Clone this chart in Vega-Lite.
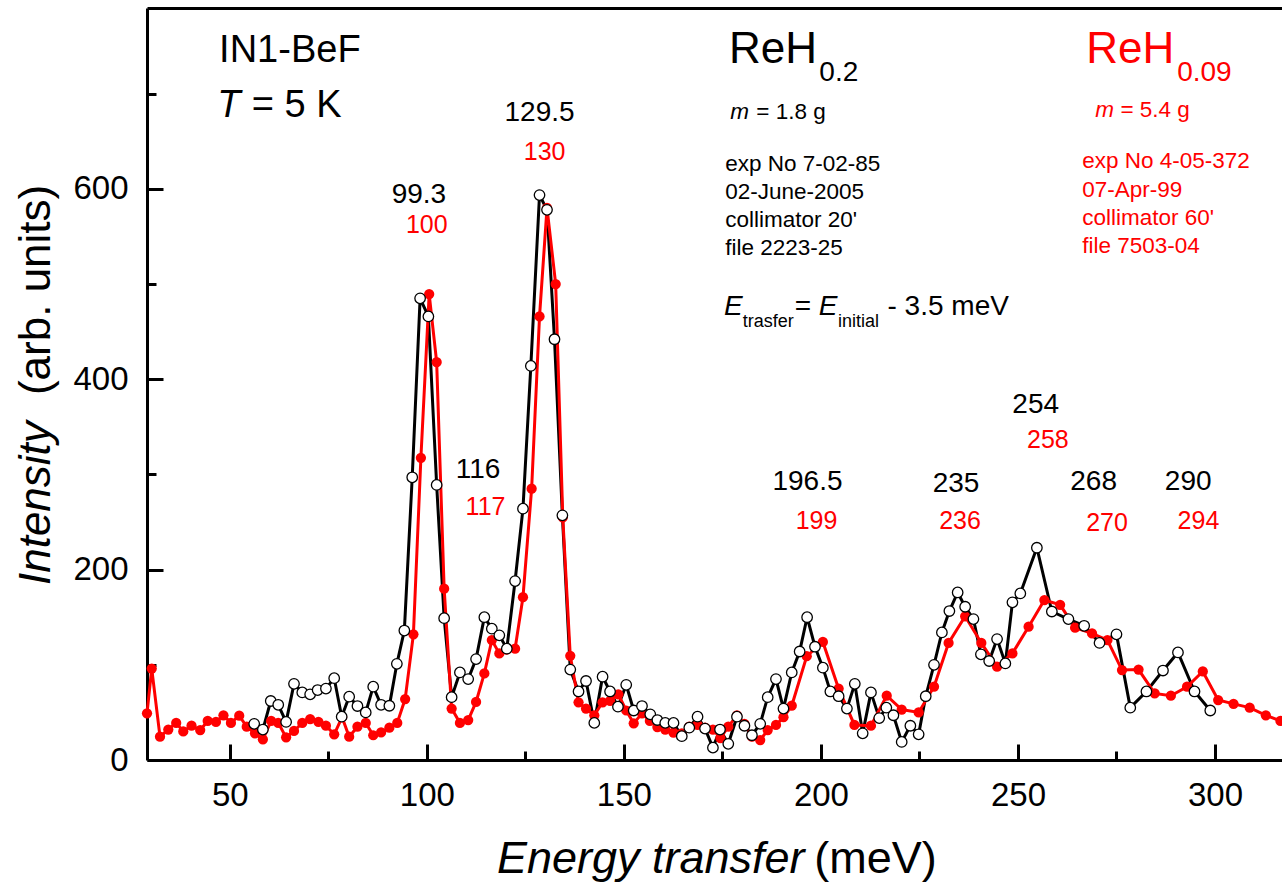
{
  "$schema": "https://vega.github.io/schema/vega-lite/v6.json",
  "width": 1135,
  "height": 752,
  "autosize": {"type": "none"},
  "padding": {"left": 147, "top": 8, "right": 0, "bottom": 126},
  "background": "white",
  "config": {"view": {"stroke": null}, "font": "Liberation Sans", "text": {"font": "Liberation Sans"},
    "axis": {"grid": false, "title": null, "tickColor": "black", "tickWidth": 3, "domainColor": "black", "domainWidth": 3,
      "labelFont": "Liberation Sans", "labelFontSize": 33, "labelColor": "black", "labelPadding": 35, "labelOverlap": false, "labelFlush": false}},
  "resolve": {"axis": {"x": "independent", "y": "independent"}},
  "datasets": {
    "spectra": [
      {"s":"ReH0.2","x":56.2,"y":38},{"s":"ReH0.2","x":58.4,"y":32},{"s":"ReH0.2","x":60.4,"y":62},{"s":"ReH0.2","x":62.3,"y":58},
      {"s":"ReH0.2","x":64.3,"y":40},{"s":"ReH0.2","x":66.3,"y":80},{"s":"ReH0.2","x":68.4,"y":71},{"s":"ReH0.2","x":70.4,"y":69},
      {"s":"ReH0.2","x":72.3,"y":73.5},{"s":"ReH0.2","x":74.4,"y":75},{"s":"ReH0.2","x":76.5,"y":86},{"s":"ReH0.2","x":78.4,"y":45.5},
      {"s":"ReH0.2","x":80.3,"y":66.5},{"s":"ReH0.2","x":82.4,"y":56.7},{"s":"ReH0.2","x":84.5,"y":50},{"s":"ReH0.2","x":86.4,"y":77},
      {"s":"ReH0.2","x":88.4,"y":58},{"s":"ReH0.2","x":90.5,"y":57},{"s":"ReH0.2","x":92.4,"y":101},{"s":"ReH0.2","x":94.3,"y":136},
      {"s":"ReH0.2","x":96.3,"y":297},{"s":"ReH0.2","x":98.3,"y":485},{"s":"ReH0.2","x":100.4,"y":466},{"s":"ReH0.2","x":102.5,"y":289},
      {"s":"ReH0.2","x":104.4,"y":149},{"s":"ReH0.2","x":106.3,"y":66},{"s":"ReH0.2","x":108.4,"y":92},{"s":"ReH0.2","x":110.5,"y":85},
      {"s":"ReH0.2","x":112.5,"y":106},{"s":"ReH0.2","x":114.6,"y":150},{"s":"ReH0.2","x":116.5,"y":138},{"s":"ReH0.2","x":118.4,"y":131},
      {"s":"ReH0.2","x":120.3,"y":117},{"s":"ReH0.2","x":122.4,"y":188},{"s":"ReH0.2","x":124.4,"y":264},{"s":"ReH0.2","x":126.4,"y":414},
      {"s":"ReH0.2","x":128.6,"y":593.5},{"s":"ReH0.2","x":130.5,"y":578},{"s":"ReH0.2","x":132.4,"y":442},{"s":"ReH0.2","x":134.4,"y":257},
      {"s":"ReH0.2","x":136.4,"y":95},{"s":"ReH0.2","x":138.5,"y":72},{"s":"ReH0.2","x":140.4,"y":83},{"s":"ReH0.2","x":142.5,"y":39},
      {"s":"ReH0.2","x":144.6,"y":87.5},{"s":"ReH0.2","x":146.5,"y":72},{"s":"ReH0.2","x":148.5,"y":56},{"s":"ReH0.2","x":150.6,"y":79},
      {"s":"ReH0.2","x":152.5,"y":52},{"s":"ReH0.2","x":154.6,"y":56.7},{"s":"ReH0.2","x":156.7,"y":48},{"s":"ReH0.2","x":158.5,"y":42},
      {"s":"ReH0.2","x":160.5,"y":39},{"s":"ReH0.2","x":162.6,"y":39},{"s":"ReH0.2","x":164.7,"y":25},{"s":"ReH0.2","x":166.6,"y":34},
      {"s":"ReH0.2","x":168.7,"y":45.5},{"s":"ReH0.2","x":170.6,"y":33},{"s":"ReH0.2","x":172.6,"y":13},{"s":"ReH0.2","x":174.4,"y":32},
      {"s":"ReH0.2","x":176.5,"y":17},{"s":"ReH0.2","x":178.7,"y":45.5},{"s":"ReH0.2","x":180.6,"y":36},{"s":"ReH0.2","x":182.5,"y":26},
      {"s":"ReH0.2","x":184.6,"y":38},{"s":"ReH0.2","x":186.5,"y":66},{"s":"ReH0.2","x":188.6,"y":85},{"s":"ReH0.2","x":190.5,"y":54},
      {"s":"ReH0.2","x":192.6,"y":92},{"s":"ReH0.2","x":194.6,"y":114},{"s":"ReH0.2","x":196.5,"y":150},{"s":"ReH0.2","x":198.5,"y":119},
      {"s":"ReH0.2","x":200.5,"y":97},{"s":"ReH0.2","x":202.4,"y":72},{"s":"ReH0.2","x":204.5,"y":67},{"s":"ReH0.2","x":206.6,"y":54},
      {"s":"ReH0.2","x":208.6,"y":80},{"s":"ReH0.2","x":210.6,"y":28},{"s":"ReH0.2","x":212.7,"y":71},{"s":"ReH0.2","x":214.8,"y":44},
      {"s":"ReH0.2","x":216.6,"y":55},{"s":"ReH0.2","x":218.4,"y":47},{"s":"ReH0.2","x":220.5,"y":19},{"s":"ReH0.2","x":222.7,"y":36},
      {"s":"ReH0.2","x":224.8,"y":27},{"s":"ReH0.2","x":226.6,"y":67},{"s":"ReH0.2","x":228.7,"y":100},{"s":"ReH0.2","x":230.7,"y":134},
      {"s":"ReH0.2","x":232.6,"y":156.5},{"s":"ReH0.2","x":234.7,"y":176},{"s":"ReH0.2","x":236.6,"y":161},{"s":"ReH0.2","x":238.7,"y":148},
      {"s":"ReH0.2","x":240.6,"y":111},{"s":"ReH0.2","x":242.7,"y":104},{"s":"ReH0.2","x":244.7,"y":127},{"s":"ReH0.2","x":246.8,"y":101.5},
      {"s":"ReH0.2","x":248.6,"y":165.6},{"s":"ReH0.2","x":250.6,"y":175},{"s":"ReH0.2","x":254.8,"y":223},{"s":"ReH0.2","x":258.6,"y":156},
      {"s":"ReH0.2","x":262.8,"y":148},{"s":"ReH0.2","x":266.8,"y":141},{"s":"ReH0.2","x":270.7,"y":123},{"s":"ReH0.2","x":275,"y":132},
      {"s":"ReH0.2","x":278.5,"y":55},{"s":"ReH0.2","x":282.6,"y":72},{"s":"ReH0.2","x":286.8,"y":94},{"s":"ReH0.2","x":290.6,"y":113},
      {"s":"ReH0.2","x":294.8,"y":72},{"s":"ReH0.2","x":298.8,"y":52},
      {"s":"ReH0.09","x":29,"y":49},{"s":"ReH0.09","x":30.2,"y":96},{"s":"ReH0.09","x":32.3,"y":24.5},{"s":"ReH0.09","x":34.4,"y":32},
      {"s":"ReH0.09","x":36.4,"y":39},{"s":"ReH0.09","x":38.2,"y":30},{"s":"ReH0.09","x":40.3,"y":36},{"s":"ReH0.09","x":42.5,"y":31.5},
      {"s":"ReH0.09","x":44.4,"y":41},{"s":"ReH0.09","x":46.5,"y":40},{"s":"ReH0.09","x":48.4,"y":47},{"s":"ReH0.09","x":50.3,"y":39},
      {"s":"ReH0.09","x":52.4,"y":46.5},{"s":"ReH0.09","x":54.3,"y":35},{"s":"ReH0.09","x":56.4,"y":28},{"s":"ReH0.09","x":58.4,"y":21.7},
      {"s":"ReH0.09","x":60.5,"y":41},{"s":"ReH0.09","x":62.3,"y":39},{"s":"ReH0.09","x":64.3,"y":23.8},{"s":"ReH0.09","x":66.3,"y":30.5},
      {"s":"ReH0.09","x":68.4,"y":39},{"s":"ReH0.09","x":70.4,"y":43},{"s":"ReH0.09","x":72.5,"y":40},{"s":"ReH0.09","x":74.4,"y":36},
      {"s":"ReH0.09","x":76.5,"y":27},{"s":"ReH0.09","x":78.5,"y":45},{"s":"ReH0.09","x":80.3,"y":24.5},{"s":"ReH0.09","x":82.4,"y":35},
      {"s":"ReH0.09","x":84.5,"y":39},{"s":"ReH0.09","x":86.4,"y":26},{"s":"ReH0.09","x":88.4,"y":29},{"s":"ReH0.09","x":90.5,"y":34},
      {"s":"ReH0.09","x":92.5,"y":39},{"s":"ReH0.09","x":94.5,"y":64},{"s":"ReH0.09","x":96.6,"y":132},{"s":"ReH0.09","x":98.5,"y":317.5},
      {"s":"ReH0.09","x":100.6,"y":489.5},{"s":"ReH0.09","x":102.5,"y":418},{"s":"ReH0.09","x":104.4,"y":180},{"s":"ReH0.09","x":106.3,"y":54},
      {"s":"ReH0.09","x":108.4,"y":39},{"s":"ReH0.09","x":110.5,"y":42},{"s":"ReH0.09","x":112.5,"y":61},{"s":"ReH0.09","x":114.6,"y":91},
      {"s":"ReH0.09","x":116.5,"y":126},{"s":"ReH0.09","x":118.4,"y":112},{"s":"ReH0.09","x":120.3,"y":116},{"s":"ReH0.09","x":122.4,"y":117},
      {"s":"ReH0.09","x":124.4,"y":171},{"s":"ReH0.09","x":126.6,"y":285},{"s":"ReH0.09","x":128.6,"y":466},{"s":"ReH0.09","x":130.5,"y":580},
      {"s":"ReH0.09","x":132.7,"y":500},{"s":"ReH0.09","x":134.5,"y":255},{"s":"ReH0.09","x":136.4,"y":109.5},{"s":"ReH0.09","x":138.5,"y":60.6},
      {"s":"ReH0.09","x":140.4,"y":54},{"s":"ReH0.09","x":142.5,"y":47},{"s":"ReH0.09","x":144.6,"y":60.6},{"s":"ReH0.09","x":146.5,"y":62},
      {"s":"ReH0.09","x":148.6,"y":69},{"s":"ReH0.09","x":150.6,"y":52},{"s":"ReH0.09","x":152.5,"y":38.5},{"s":"ReH0.09","x":154.6,"y":49},
      {"s":"ReH0.09","x":156.6,"y":41},{"s":"ReH0.09","x":158.5,"y":34.6},{"s":"ReH0.09","x":160.5,"y":32},{"s":"ReH0.09","x":162.6,"y":28.7},
      {"s":"ReH0.09","x":164.7,"y":28},{"s":"ReH0.09","x":166.6,"y":35},{"s":"ReH0.09","x":168.7,"y":37},{"s":"ReH0.09","x":170.6,"y":34},
      {"s":"ReH0.09","x":172.6,"y":32},{"s":"ReH0.09","x":174.5,"y":23},{"s":"ReH0.09","x":176.5,"y":35},{"s":"ReH0.09","x":178.7,"y":47},
      {"s":"ReH0.09","x":180.6,"y":38},{"s":"ReH0.09","x":182.5,"y":24.5},{"s":"ReH0.09","x":184.6,"y":21},{"s":"ReH0.09","x":186.5,"y":31.5},
      {"s":"ReH0.09","x":188.6,"y":36.8},{"s":"ReH0.09","x":190.5,"y":45},{"s":"ReH0.09","x":192.6,"y":57},{"s":"ReH0.09","x":196.4,"y":109},
      {"s":"ReH0.09","x":200.5,"y":124},{"s":"ReH0.09","x":204.5,"y":75},{"s":"ReH0.09","x":208.5,"y":36.8},{"s":"ReH0.09","x":212.7,"y":36},
      {"s":"ReH0.09","x":216.7,"y":67.5},{"s":"ReH0.09","x":220.5,"y":53},{"s":"ReH0.09","x":224.8,"y":50},{"s":"ReH0.09","x":228.7,"y":77},
      {"s":"ReH0.09","x":232.4,"y":123},{"s":"ReH0.09","x":236.6,"y":151},{"s":"ReH0.09","x":240.7,"y":123},{"s":"ReH0.09","x":244.7,"y":98},
      {"s":"ReH0.09","x":248.6,"y":112},{"s":"ReH0.09","x":252.7,"y":140},{"s":"ReH0.09","x":256.7,"y":168},{"s":"ReH0.09","x":260.7,"y":163},
      {"s":"ReH0.09","x":264.5,"y":139},{"s":"ReH0.09","x":268.8,"y":133},{"s":"ReH0.09","x":272.7,"y":126},{"s":"ReH0.09","x":276.4,"y":94.5},
      {"s":"ReH0.09","x":280.6,"y":95},{"s":"ReH0.09","x":284.7,"y":70},{"s":"ReH0.09","x":288.8,"y":67.5},{"s":"ReH0.09","x":292.9,"y":77},
      {"s":"ReH0.09","x":296.9,"y":93},{"s":"ReH0.09","x":300.8,"y":63},{"s":"ReH0.09","x":304.7,"y":59},{"s":"ReH0.09","x":308.8,"y":55},
      {"s":"ReH0.09","x":312.9,"y":47},{"s":"ReH0.09","x":316.6,"y":41}
    ],
    "notes": [
      {"k":"pk","s":"ReH0.2","t":"99.3","x":98.0,"y":584.8},
      {"k":"pk","s":"ReH0.09","t":"100","x":100.0,"y":553.3},
      {"k":"pk","s":"ReH0.2","t":"129.5","x":128.6,"y":671.6},
      {"k":"pk","s":"ReH0.09","t":"130","x":129.9,"y":630.3},
      {"k":"pk","s":"ReH0.2","t":"116","x":113.0,"y":295.9},
      {"k":"pk","s":"ReH0.09","t":"117","x":114.9,"y":257.4},
      {"k":"pk","s":"ReH0.2","t":"196.5","x":196.6,"y":283.6},
      {"k":"pk","s":"ReH0.09","t":"199","x":198.9,"y":242.4},
      {"k":"pk","s":"ReH0.2","t":"235","x":234.3,"y":281.9},
      {"k":"pk","s":"ReH0.09","t":"236","x":235.3,"y":242.4},
      {"k":"pk","s":"ReH0.2","t":"254","x":254.5,"y":364.2},
      {"k":"pk","s":"ReH0.09","t":"258","x":257.6,"y":328.1},
      {"k":"pk","s":"ReH0.2","t":"268","x":269.2,"y":283.6},
      {"k":"pk","s":"ReH0.09","t":"270","x":272.6,"y":240.9},
      {"k":"pk","s":"ReH0.2","t":"290","x":293.2,"y":283.6},
      {"k":"pk","s":"ReH0.09","t":"294","x":295.8,"y":242.4},
      {"k":"big","s":"ReH0.2","t":"IN1-BeF","x":47.3,"y":733.3},
      {"k":"bigit","s":"ReH0.2","t":"T","x":46.8,"y":675.8},
      {"k":"big","s":"ReH0.2","t":"= 5 K","x":55.6,"y":675.8},
      {"k":"head","s":"ReH0.2","t":"ReH","x":176.7,"y":732.5},
      {"k":"sub","s":"ReH0.2","t":"0.2","x":199.6,"y":713.3},
      {"k":"head","s":"ReH0.09","t":"ReH","x":267.3,"y":732.5},
      {"k":"sub","s":"ReH0.09","t":"0.09","x":290.4,"y":713.3},
      {"k":"infoit","s":"ReH0.2","t":"m","x":177.0,"y":673.1},
      {"k":"info","s":"ReH0.2","t":"= 1.8 g","x":183.6,"y":673.1},
      {"k":"infoit","s":"ReH0.09","t":"m","x":269.6,"y":675.2},
      {"k":"info","s":"ReH0.09","t":"= 5.4 g","x":276.0,"y":675.2},
      {"k":"info","s":"ReH0.2","t":"exp No 7-02-85","x":175.7,"y":619.1},
      {"k":"info","s":"ReH0.2","t":"02-June-2005","x":175.7,"y":589.3},
      {"k":"info","s":"ReH0.2","t":"collimator 20'","x":175.7,"y":560.2},
      {"k":"info","s":"ReH0.2","t":"file 2223-25","x":175.7,"y":530.5},
      {"k":"info","s":"ReH0.09","t":"exp No 4-05-372","x":266.3,"y":621.6},
      {"k":"info","s":"ReH0.09","t":"07-Apr-99","x":266.3,"y":591.8},
      {"k":"info","s":"ReH0.09","t":"collimator 60'","x":266.3,"y":562.0},
      {"k":"info","s":"ReH0.09","t":"file 7503-04","x":266.3,"y":532.3},
      {"k":"eqit","s":"ReH0.2","t":"E","x":175.4,"y":467.5},
      {"k":"eqsub","s":"ReH0.2","t":"trasfer","x":180.15,"y":455.2},
      {"k":"eq","s":"ReH0.2","t":"=","x":193.35,"y":467.5},
      {"k":"eqit","s":"ReH0.2","t":"E","x":199.46,"y":467.5},
      {"k":"eqsub","s":"ReH0.2","t":"initial","x":204.33,"y":455.2},
      {"k":"eq","s":"ReH0.2","t":"- 3.5 meV","x":216.9,"y":467.5},
      {"k":"xtit","s":"ReH0.2","t":"Energy transfer","x":117.8,"y":-118.7},
      {"k":"xt","s":"ReH0.2","t":"(meV)","x":198.3,"y":-118.7},
      {"k":"ytit","s":"ReH0.2","t":"Intensity","x":4.4,"y":183.8},
      {"k":"yt","s":"ReH0.2","t":"(arb. units)","x":4.4,"y":383.4}
    ]
  },
  "encoding": {
    "x": {"field": "x", "type": "quantitative", "scale": {"domain": [29, 317], "nice": false, "zero": false}, "axis": null},
    "y": {"field": "y", "type": "quantitative", "scale": {"domain": [0, 790], "nice": false, "zero": false}, "axis": null},
    "color": {"field": "s", "type": "nominal", "scale": {"domain": ["ReH0.2", "ReH0.09"], "range": ["#000000", "#ff0000"]}, "legend": null}
  },
  "layer": [
    {
      "data": {"name": "spectra"},
      "transform": [{"filter": "datum.s === 'ReH0.2'"}],
      "mark": {"type": "line", "color": "black", "strokeWidth": 3},
      "encoding": {
        "color": {"value": "black"},
        "x": {"field": "x", "type": "quantitative", "scale": {"domain": [29, 317], "nice": false, "zero": false},
          "axis": {"orient": "bottom", "values": [50, 100, 150, 200, 250, 300], "tickSize": -16}},
        "y": {"field": "y", "type": "quantitative", "scale": {"domain": [0, 790], "nice": false, "zero": false},
          "axis": {"orient": "left", "values": [0, 200, 400, 600], "tickSize": -16}}
      }
    },
    {
      "data": {"name": "spectra"},
      "transform": [{"filter": "datum.s === 'ReH0.09'"}],
      "mark": {"type": "line", "color": "#ff0000", "strokeWidth": 3},
      "encoding": {
        "color": {"value": "#ff0000"},
        "x": {"field": "x", "type": "quantitative", "scale": {"domain": [29, 317], "nice": false, "zero": false},
          "axis": {"orient": "bottom", "values": [75, 125, 175, 225, 275], "tickSize": -9, "labels": false, "domain": false}},
        "y": {"field": "y", "type": "quantitative", "scale": {"domain": [0, 790], "nice": false, "zero": false},
          "axis": {"orient": "left", "values": [100, 300, 500, 700], "tickSize": -9, "labels": false, "domain": false}}
      }
    },
    {
      "data": {"name": "spectra"},
      "transform": [{"filter": "datum.s === 'ReH0.09'"}],
      "mark": {"type": "circle", "color": "#ff0000", "size": 105, "opacity": 1},
      "encoding": {
        "color": {"value": "#ff0000"},
        "x": {"field": "x", "type": "quantitative", "scale": {"domain": [29, 317], "nice": false, "zero": false},
          "axis": {"orient": "top", "ticks": false, "labels": false, "domain": true}}
      }
    },
    {
      "data": {"name": "spectra"},
      "transform": [{"filter": "datum.s === 'ReH0.2'"}],
      "mark": {"type": "point", "filled": true, "fill": "white", "stroke": "black", "strokeWidth": 1.3, "size": 110, "opacity": 1},
      "encoding": {"color": {"value": "white"}}
    },
    {
      "data": {"name": "notes"},
      "transform": [{"filter": "datum.k === 'pk' && datum.s === 'ReH0.2'"}],
      "mark": {"type": "text", "align": "center", "baseline": "alphabetic", "fontSize": 28},
      "encoding": {"text": {"field": "t"}}
    },
    {
      "data": {"name": "notes"},
      "transform": [{"filter": "datum.k === 'pk' && datum.s === 'ReH0.09'"}],
      "mark": {"type": "text", "align": "center", "baseline": "alphabetic", "fontSize": 25},
      "encoding": {"text": {"field": "t"}}
    },
    {
      "data": {"name": "notes"},
      "transform": [{"filter": "datum.k === 'big'"}],
      "mark": {"type": "text", "align": "left", "baseline": "alphabetic", "fontSize": 38},
      "encoding": {"text": {"field": "t"}}
    },
    {
      "data": {"name": "notes"},
      "transform": [{"filter": "datum.k === 'bigit'"}],
      "mark": {"type": "text", "align": "left", "baseline": "alphabetic", "fontSize": 38, "fontStyle": "italic"},
      "encoding": {"text": {"field": "t"}}
    },
    {
      "data": {"name": "notes"},
      "transform": [{"filter": "datum.k === 'head'"}],
      "mark": {"type": "text", "align": "left", "baseline": "alphabetic", "fontSize": 44},
      "encoding": {"text": {"field": "t"}}
    },
    {
      "data": {"name": "notes"},
      "transform": [{"filter": "datum.k === 'sub'"}],
      "mark": {"type": "text", "align": "left", "baseline": "alphabetic", "fontSize": 28},
      "encoding": {"text": {"field": "t"}}
    },
    {
      "data": {"name": "notes"},
      "transform": [{"filter": "datum.k === 'info'"}],
      "mark": {"type": "text", "align": "left", "baseline": "alphabetic", "fontSize": 22.5},
      "encoding": {"text": {"field": "t"}}
    },
    {
      "data": {"name": "notes"},
      "transform": [{"filter": "datum.k === 'infoit'"}],
      "mark": {"type": "text", "align": "left", "baseline": "alphabetic", "fontSize": 22.5, "fontStyle": "italic"},
      "encoding": {"text": {"field": "t"}}
    },
    {
      "data": {"name": "notes"},
      "transform": [{"filter": "datum.k === 'eq'"}],
      "mark": {"type": "text", "align": "left", "baseline": "alphabetic", "fontSize": 28},
      "encoding": {"text": {"field": "t"}}
    },
    {
      "data": {"name": "notes"},
      "transform": [{"filter": "datum.k === 'eqit'"}],
      "mark": {"type": "text", "align": "left", "baseline": "alphabetic", "fontSize": 28, "fontStyle": "italic"},
      "encoding": {"text": {"field": "t"}}
    },
    {
      "data": {"name": "notes"},
      "transform": [{"filter": "datum.k === 'eqsub'"}],
      "mark": {"type": "text", "align": "left", "baseline": "alphabetic", "fontSize": 18},
      "encoding": {"text": {"field": "t"}}
    },
    {
      "data": {"name": "notes"},
      "transform": [{"filter": "datum.k === 'xtit'"}],
      "mark": {"type": "text", "align": "left", "baseline": "alphabetic", "fontSize": 45, "fontStyle": "italic"},
      "encoding": {"text": {"field": "t"}}
    },
    {
      "data": {"name": "notes"},
      "transform": [{"filter": "datum.k === 'xt'"}],
      "mark": {"type": "text", "align": "left", "baseline": "alphabetic", "fontSize": 45},
      "encoding": {"text": {"field": "t"}}
    },
    {
      "data": {"name": "notes"},
      "transform": [{"filter": "datum.k === 'ytit'"}],
      "mark": {"type": "text", "align": "left", "baseline": "alphabetic", "fontSize": 44, "fontStyle": "italic", "angle": 270},
      "encoding": {"text": {"field": "t"}}
    },
    {
      "data": {"name": "notes"},
      "transform": [{"filter": "datum.k === 'yt'"}],
      "mark": {"type": "text", "align": "left", "baseline": "alphabetic", "fontSize": 44, "angle": 270},
      "encoding": {"text": {"field": "t"}}
    }
  ]
}
